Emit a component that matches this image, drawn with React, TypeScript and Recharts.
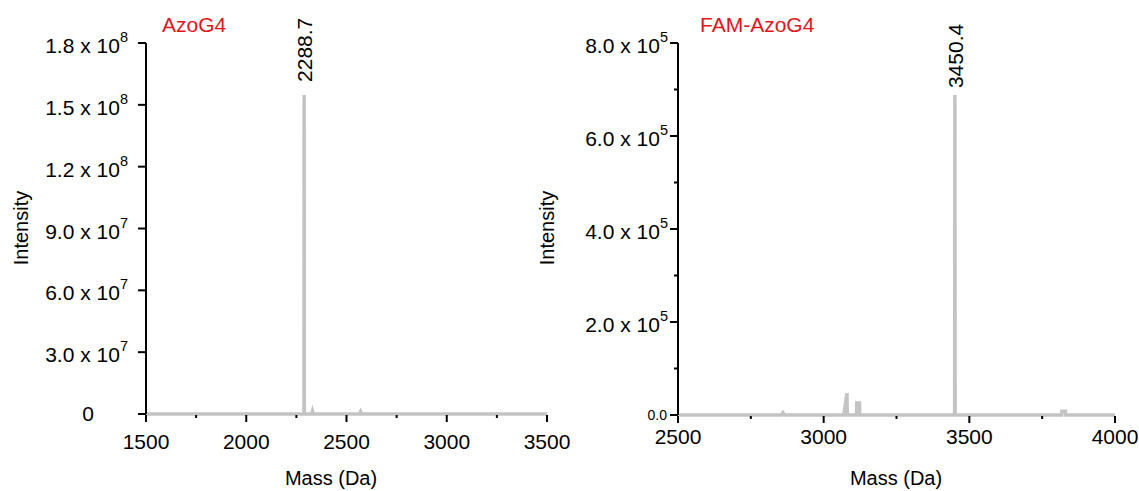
import React from 'react';
import { LineChart, Line, XAxis, YAxis, ReferenceDot } from 'recharts';

// ---------- data: AzoG4 (left) ----------
const azoMass = [1500, 2100, 2287.9, 2288.7, 2289.5, 2326, 2330, 2334, 2565, 2570, 2575, 3500];
const azoIntensity = [0, 0, 0, 1.548e8, 0, 0, 1.4e6, 0, 0, 1.1e6, 0, 0];
const azoXTicks = [1500, 1750, 2000, 2250, 2500, 2750, 3000, 3250, 3500];
const azoXLabels = ['1500', '', '2000', '', '2500', '', '3000', '', '3500'];
const azoYTicks = [0, 3e7, 6e7, 9e7, 1.2e8, 1.5e8, 1.8e8];
const azoYMantissa = ['0', '3.0', '6.0', '9.0', '1.2', '1.5', '1.8'];
const azoYExponent = ['', '7', '7', '7', '8', '8', '8'];
const azoPeakMass = 2288.7;
const azoPeakIntensity = 1.548e8;
const azoPeakLabel = '2288.7';

// ---------- data: FAM-AzoG4 (right) ----------
const famMass = [2500, 2855, 2860, 2865, 3069, 3080, 3081, 3113, 3113.5, 3123, 3123.5, 3449.6, 3450.4, 3451.2, 3817, 3818, 3830, 3831, 4000];
const famIntensity = [0, 0, 5e3, 0, 0, 4.7e4, 0, 0, 2.6e4, 2.6e4, 0, 0, 6.88e5, 0, 0, 8e3, 8e3, 0, 0];
const famXTicks = [2500, 2750, 3000, 3250, 3500, 3750, 4000];
const famXLabels = ['2500', '', '3000', '', '3500', '', '4000'];
const famYTicks = [0, 1e5, 2e5, 3e5, 4e5, 5e5, 6e5, 7e5, 8e5];
const famYMantissa = ['0.0', '', '2.0', '', '4.0', '', '6.0', '', '8.0'];
const famYExponent = ['', '', '5', '', '5', '', '5', '', '5'];
const famPeakMass = 3450.4;
const famPeakIntensity = 6.88e5;
const famPeakLabel = '3450.4';

const FONT = '"Liberation Sans", Arial, Helvetica, sans-serif';
const GRAY = '#c3c3c3';
const RED = '#e3141c';
const BLACK = '#000';

function makeData(mass: number[], inten: number[]) {
  return mass.map((m, i) => ({ mass: m, intensity: inten[i] }));
}

type YCfg = {
  ticks: number[];
  mant: string[];
  exp: string[];
  endGap: number;
  zeroX?: number;
  zeroSmall?: boolean;
};

function renderYTick(p: any, cfg: YCfg) {
  const { x, y, payload } = p;
  const idx = cfg.ticks.indexOf(payload.value);
  const mant = cfg.mant[idx] ?? '';
  const exp = cfg.exp[idx] ?? '';
  const major = mant !== '';
  const len = major ? 8 : 4;
  let label: any = null;
  if (major) {
    if (exp === '') {
      if (cfg.zeroSmall) {
        label = (
          <text x={x - 11} y={y + 5} textAnchor="end" fontSize={14} fontFamily={FONT} fill={BLACK}>
            {mant}
          </text>
        );
      } else {
        label = (
          <text x={cfg.zeroX} y={y + 7} textAnchor="middle" fontSize={21} fontFamily={FONT} fill={BLACK}>
            {mant}
          </text>
        );
      }
    } else {
      label = (
        <text x={x - cfg.endGap} y={y + 10} textAnchor="end" fontSize={21} fontFamily={FONT} fill={BLACK}>
          {mant + ' x 10'}
          <tspan dy={-11} fontSize={14.5}>{exp}</tspan>
        </text>
      );
    }
  }
  return (
    <g>
      <line x1={x - len} x2={x} y1={y} y2={y} stroke={BLACK} strokeWidth={2} />
      {label}
    </g>
  );
}

function renderXTick(p: any, ticks: number[], labels: string[], labelDy: number) {
  const { x, y, payload } = p;
  const idx = ticks.indexOf(payload.value);
  const lab = labels[idx] ?? '';
  const major = lab !== '';
  const len = major ? 8 : 4;
  return (
    <g>
      <line x1={x} x2={x} y1={y + 1} y2={y + len} stroke={BLACK} strokeWidth={2} />
      {major ? (
        <text x={x} y={y + labelDy} textAnchor="middle" fontSize={21} fontFamily={FONT} fill={BLACK}>
          {lab}
        </text>
      ) : null}
    </g>
  );
}

function peakLabel(text: string, dx: number, gap: number) {
  return (props: any) => {
    const vb = props.viewBox || {};
    const cx = (vb.x ?? 0) + (vb.width ?? 0) / 2;
    const cy = (vb.y ?? 0) + (vb.height ?? 0) / 2;
    const tx = cx + dx;
    const ty = cy - gap;
    return (
      <text
        x={tx}
        y={ty}
        transform={`rotate(-90 ${tx} ${ty})`}
        textAnchor="start"
        fontSize={21}
        fontFamily={FONT}
        fill={BLACK}
      >
        {text}
      </text>
    );
  };
}

const azoData = makeData(azoMass, azoIntensity);
const famData = makeData(famMass, famIntensity);

const azoYCfg: YCfg = { ticks: azoYTicks, mant: azoYMantissa, exp: azoYExponent, endGap: 18, zeroX: 88 };
const famYCfg: YCfg = { ticks: famYTicks, mant: famYMantissa, exp: famYExponent, endGap: 10, zeroSmall: true };

export default function App() {
  return (
    <div style={{ position: 'absolute', left: 0, top: 0, width: 1139, height: 491, background: '#fff', overflow: 'hidden' }}>
      {/* Left chart */}
      <div style={{ position: 'absolute', left: 0, top: 0 }}>
        <LineChart width={570} height={491} data={azoData} margin={{ top: 43, right: 23, bottom: 0, left: 0 }}>
          <XAxis
            dataKey="mass"
            type="number"
            domain={[1500, 3500]}
            ticks={azoXTicks}
            interval={0}
            height={77}
            tickSize={0}
            tickMargin={0}
            axisLine={false}
            tickLine={false}
            tick={(p: any) => renderXTick(p, azoXTicks, azoXLabels, 35)}
          />
          <YAxis
            type="number"
            domain={[0, 1.8e8]}
            ticks={azoYTicks}
            interval={0}
            width={146}
            tickSize={0}
            tickMargin={0}
            axisLine={{ stroke: BLACK, strokeWidth: 2 }}
            tickLine={false}
            tick={(p: any) => renderYTick(p, azoYCfg)}
          />
          <Line
            dataKey="intensity"
            type="linear"
            stroke={GRAY}
            strokeWidth={3.5}
            dot={false}
            activeDot={false}
            isAnimationActive={false}
            strokeLinejoin="miter"
          />
          <ReferenceDot
            x={azoPeakMass}
            y={azoPeakIntensity}
            r={1}
            fill="none"
            stroke="none"
            label={peakLabel(azoPeakLabel, 8, 13)}
          />
        </LineChart>
      </div>

      {/* Right chart */}
      <div style={{ position: 'absolute', left: 570, top: 0 }}>
        <LineChart width={569} height={491} data={famData} margin={{ top: 43, right: 24, bottom: 0, left: 0 }}>
          <XAxis
            dataKey="mass"
            type="number"
            domain={[2500, 4000]}
            ticks={famXTicks}
            interval={0}
            height={76}
            tickSize={0}
            tickMargin={0}
            axisLine={false}
            tickLine={false}
            tick={(p: any) => renderXTick(p, famXTicks, famXLabels, 29)}
          />
          <YAxis
            type="number"
            domain={[0, 8e5]}
            ticks={famYTicks}
            interval={0}
            width={108}
            tickSize={0}
            tickMargin={0}
            axisLine={{ stroke: BLACK, strokeWidth: 2 }}
            tickLine={false}
            tick={(p: any) => renderYTick(p, famYCfg)}
          />
          <Line
            dataKey="intensity"
            type="linear"
            stroke={GRAY}
            strokeWidth={3.5}
            dot={false}
            activeDot={false}
            isAnimationActive={false}
            strokeLinejoin="miter"
          />
          <ReferenceDot
            x={famPeakMass}
            y={famPeakIntensity}
            r={1}
            fill="none"
            stroke="none"
            label={peakLabel(famPeakLabel, 8, 7)}
          />
        </LineChart>
      </div>

      {/* Static titles and axis titles */}
      <svg width={1139} height={491} style={{ position: 'absolute', left: 0, top: 0, pointerEvents: 'none' }}>
        <text x={162} y={32} fontSize={21} fontFamily={FONT} fill={RED}>AzoG4</text>
        <text x={700} y={32} fontSize={21} fontFamily={FONT} fill={RED}>FAM-AzoG4</text>
        <text x={28} y={228} transform="rotate(-90 28 228)" textAnchor="middle" fontSize={20} fontFamily={FONT} fill={BLACK}>Intensity</text>
        <text x={554} y={228} transform="rotate(-90 554 228)" textAnchor="middle" fontSize={20} fontFamily={FONT} fill={BLACK}>Intensity</text>
        <text x={331} y={485} textAnchor="middle" fontSize={20} fontFamily={FONT} fill={BLACK}>Mass (Da)</text>
        <text x={896} y={485} textAnchor="middle" fontSize={20} fontFamily={FONT} fill={BLACK}>Mass (Da)</text>
      </svg>
    </div>
  );
}
